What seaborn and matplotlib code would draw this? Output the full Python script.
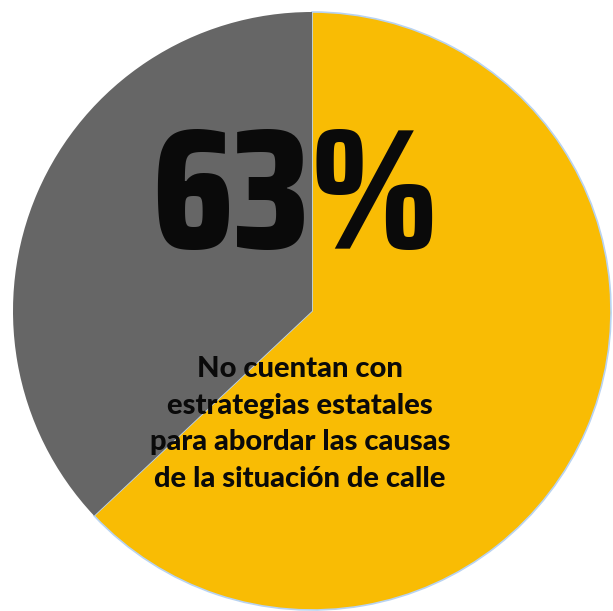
import matplotlib
matplotlib.use("Agg")
import matplotlib.pyplot as plt
import seaborn as sns

# Share of states without street-homelessness strategies
labels = ["No cuentan", "Cuentan"]
values = [63, 37]
colors = ["#F9BC04", "#666666"]
headline = "63%"
caption = "No cuentan con\nestrategias estatales\npara abordar las causas\nde la situación de calle"

sns.set_theme(style="white")
plt.rcParams["font.family"] = ["Lato", "DejaVu Sans"]

fig = plt.figure(figsize=(6.13, 6.11), dpi=100)
ax = fig.add_axes([0, 0, 1, 1])

wedges, _ = ax.pie(values, colors=colors, startangle=90, counterclock=False,
                   center=(312, 300), radius=299, frame=True,
                   wedgeprops=dict(linewidth=0))
wedges[0].set_edgecolor("#B8D3F2")
wedges[0].set_linewidth(1.2)
ax.set_xlim(0, 613)
ax.set_ylim(0, 611)
ax.set_aspect("equal")
ax.axis("off")

ax.text(295, 409, headline, ha="center", va="center", fontsize=124,
        family=["Saira Condensed", "DejaVu Sans"], fontweight=800,
        color="#0a0a0a")
ax.text(300, 187, caption, ha="center", va="center", fontsize=21,
        fontweight="black", linespacing=1.5, color="#0a0a0a")

fig.savefig("out.png", dpi=100)
